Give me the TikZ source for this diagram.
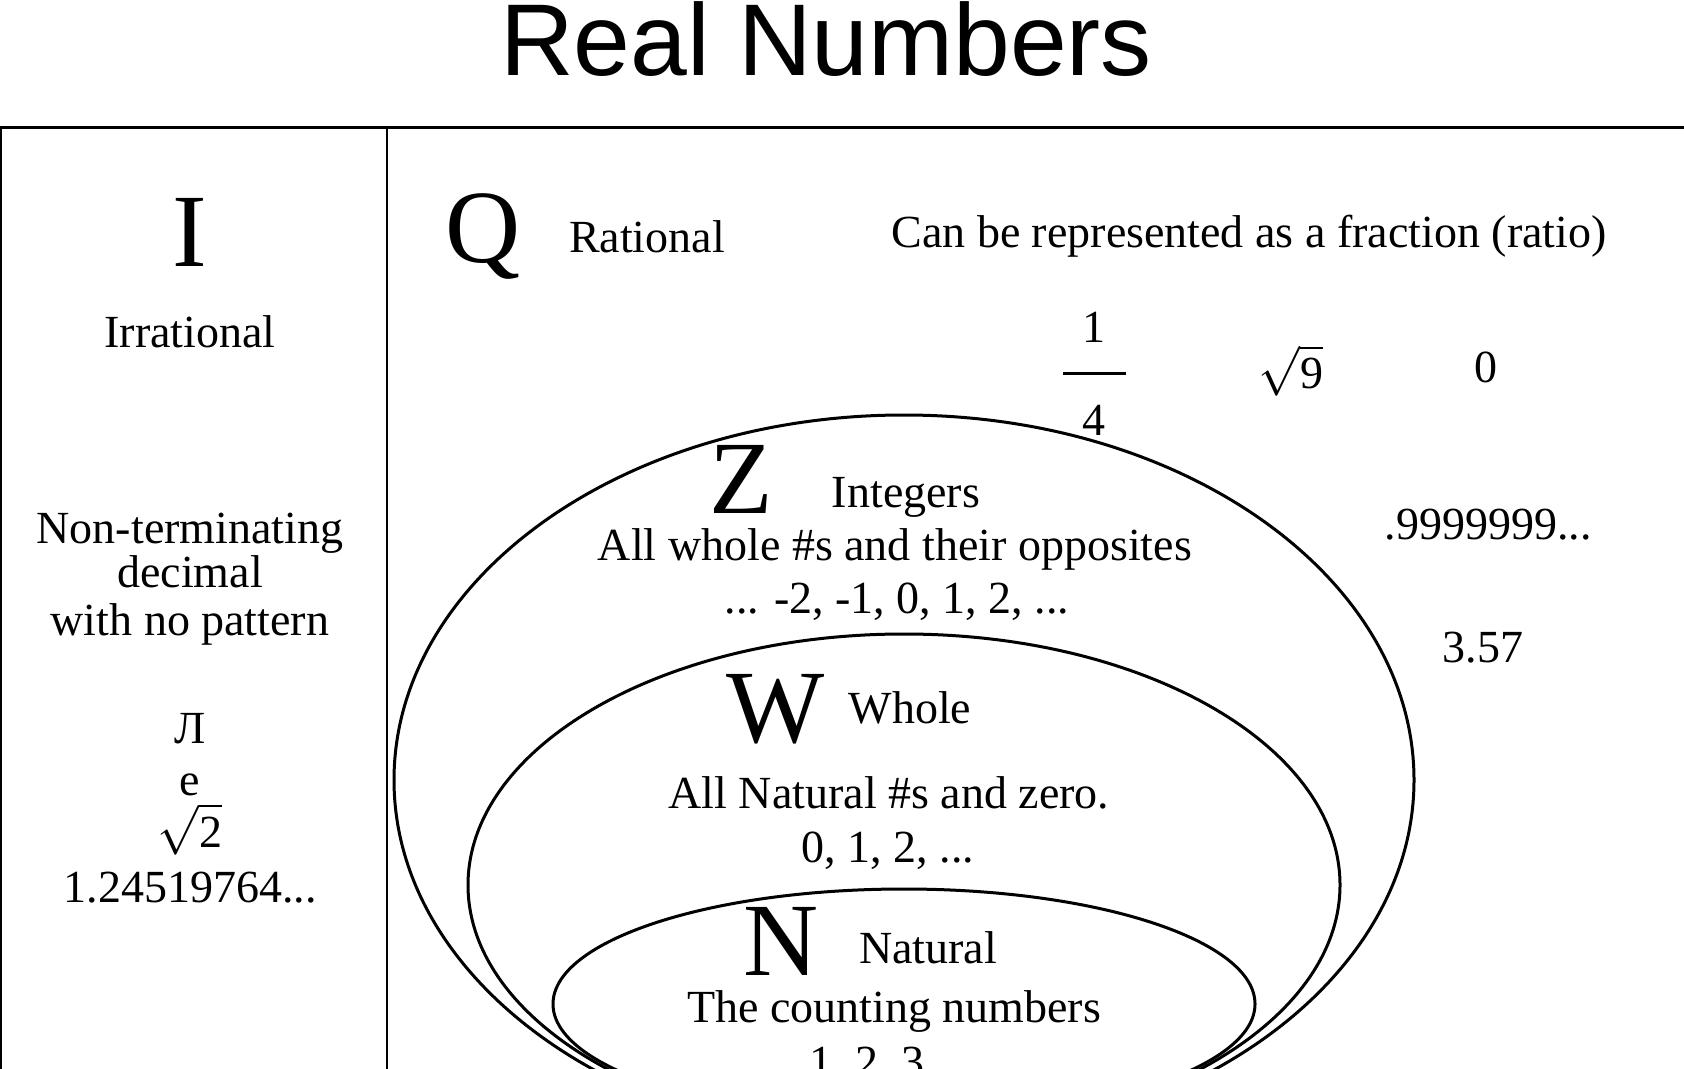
\documentclass[tikz,border=0pt]{standalone}
\usepackage{fontspec}
\setmainfont{Liberation Serif}
\newfontfamily\headfont{Liberation Sans}
\usetikzlibrary{positioning}
\tikzset{
  txt/.style={font=\fontsize{23}{27}\selectfont,anchor=base,inner sep=0pt},
  bigsym/.style={font=\fontsize{52}{60}\selectfont,anchor=base,inner sep=0pt},
  setline/.style={line width=1.5pt},
}
\begin{document}
\begin{tikzpicture}[x=0.5pt,y=-0.5pt]
\useasboundingbox (0,0) rectangle (1684,1069);
\clip (0,0) rectangle (1684,1069);
\node[anchor=base,inner sep=0pt,font=\headfont\fontsize{51}{60}\selectfont] (title) at (826,76) {Real Numbers};
% frame
\coordinate (tl) at (0,128); \coordinate (tr) at (1684,128);
\coordinate (lt) at (1,128); \coordinate (lb) at (1,1069);
\coordinate (dt) at (387,128); \coordinate (db) at (387,1069);
\draw[line width=1.5pt] (tl) -- (tr);
\draw[line width=1pt] (lt) -- (lb);
\draw[line width=1pt] (dt) -- (db);
% irrational column
\node[bigsym] (I) at (190,267) {I};
\node[txt] (irr) at (190,348) {Irrational};
\node[txt] (nonterm) at (190,543) {Non-terminating};
\node[txt] (dec) at (190,587) {decimal};
\node[txt] (nopat) at (190,635) {with no pattern};
\foreach \t/\y [count=\i] in {Л/743, e/795, {$\sqrt{\hbox{2}}$}/847}
  \node[txt] (irrex\i) at (190,\y) {\t};
\node[txt] (irrex4) at (190,902) {1.24519764...};
% rational
\node[bigsym] (Q) at (483,263) {Q};
\node[txt] (rat) at (647,253) {Rational};
\node[txt] (ratdef) at (1249,248) {Can be represented as a fraction (ratio)};
\node[txt] (num) at (1094,343) {1};
\node[txt] (den) at (1094,435) {4};
\coordinate (barl) at (1063,373); \coordinate (barr) at (1126,373);
\draw[line width=1.5pt] (barl) -- (barr);
\node[txt] (rt9) at (1291,388) {$\sqrt{\hbox{9}}$};
\node[txt] (zero) at (1486,382) {0};
\node[txt] (rep) at (1488,539) {.9999999...};
\node[txt] (dec357) at (1483,662) {3.57};
% nested sets
\draw[setline] (904,780) ellipse [x radius=255pt, y radius=182.5pt];
\draw[setline] (904,885) ellipse [x radius=218pt, y radius=125.5pt];
\draw[setline] (904,1004) ellipse [x radius=175.5pt, y radius=57.5pt];
\node[bigsym] (Z) at (741,513) {Z};
\node[txt] (int) at (906,507) {Integers};
\node[txt] (intdef) at (895,560) {All whole \#s and their opposites};
\node[txt] (intex) at (897,613) {... -2, -1, 0, 1, 2, ...};
\node[bigsym] (W) at (776,742) {W};
\node[txt] (whole) at (910,723) {Whole};
\node[txt] (wholedef) at (889,808) {All Natural \#s and zero.};
\node[txt] (wholeex) at (888,862) {0, 1, 2, ...};
\node[bigsym] (N) at (781,975) {N};
\node[txt] (nat) at (928,963) {Natural};
\node[txt] (natdef) at (894,1022) {The counting numbers};
\node[txt] (natex) at (867,1077) {1, 2, 3};
\end{tikzpicture}
\end{document}
